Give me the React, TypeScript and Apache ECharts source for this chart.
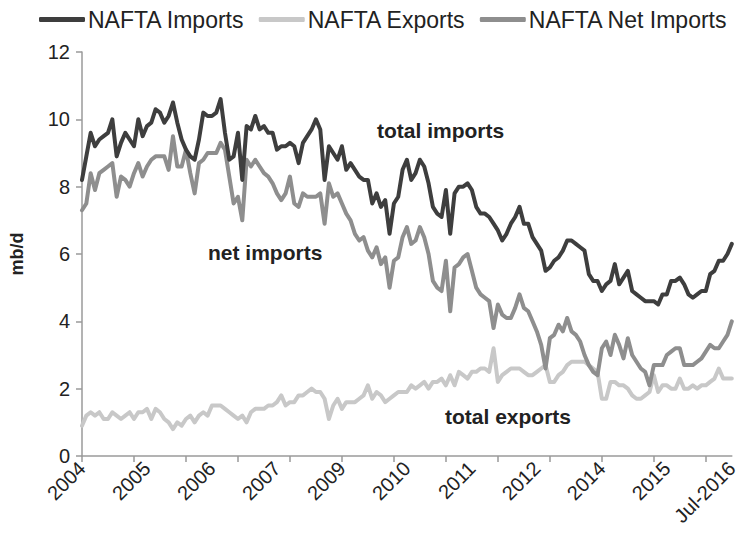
import React, { useEffect, useRef } from "react";
import * as echarts from "echarts";

// Monthly data, Jan-2004 .. Jul-2016 (151 months)
const startYear = 2004;
const monthCount = 151;
const monthNames = ["Jan", "Feb", "Mar", "Apr", "May", "Jun", "Jul", "Aug", "Sep", "Oct", "Nov", "Dec"];
const categories: string[] = [];
for (let i = 0; i < monthCount; i++) {
  categories.push(monthNames[i % 12] + "-" + (startYear + Math.floor(i / 12)));
}

const xTickLabels = ["2004", "2005", "2006", "2007", "2009", "2010", "2011", "2012", "2014", "2015", "Jul-2016"];

const importsData = [
  8.2, 8.9, 9.6, 9.2, 9.4, 9.5, 9.6, 10.0, 8.9, 9.3, 9.6, 9.4,
  9.2, 10.0, 9.5, 9.8, 9.9, 10.3, 10.2, 9.9, 10.1, 10.5, 9.9, 9.4,
  9.1, 8.9, 8.8, 9.4, 10.2, 10.1, 10.1, 10.2, 10.6, 9.6, 8.8, 8.9,
  9.6, 8.2, 9.8, 9.7, 10.1, 9.7, 9.8, 9.6, 9.6, 9.1, 9.2, 9.2,
  9.3, 9.2, 8.7, 9.3, 9.5, 9.7, 10.0, 9.7, 8.2, 9.2, 9.0, 8.8,
  9.2, 8.5, 8.7, 8.5, 8.3, 8.2, 8.2, 7.5, 7.8, 7.4, 7.6, 6.6,
  7.5, 7.7, 8.5, 8.8, 8.2, 8.4, 8.8, 8.6, 8.1, 7.4, 7.2, 7.1,
  7.9, 6.6, 7.8, 8.0, 8.0, 8.1, 7.9, 7.4, 7.2, 7.2, 7.1, 6.9,
  6.7, 6.4, 6.6, 6.9, 7.1, 7.4, 6.9, 6.9, 6.5, 6.3, 6.1, 5.5,
  5.6, 5.8, 5.9, 6.1, 6.4, 6.4, 6.3, 6.2, 6.1, 5.4, 5.2, 5.2,
  4.9, 5.1, 5.2, 5.7, 5.1, 5.3, 5.5, 4.9, 4.8, 4.7, 4.6, 4.6,
  4.6, 4.5, 4.8, 4.8, 5.2, 5.2, 5.3, 5.1, 4.8, 4.7, 4.8, 4.9,
  4.9, 5.4, 5.5, 5.8, 5.8, 6.0, 6.3,
];

const exportsData = [
  0.9, 1.2, 1.3, 1.2, 1.3, 1.1, 1.1, 1.3, 1.2, 1.1, 1.2, 1.3,
  1.1, 1.3, 1.3, 1.4, 1.1, 1.4, 1.3, 1.1, 1.0, 0.8, 1.0, 0.9,
  1.1, 1.2, 1.0, 1.2, 1.3, 1.2, 1.5, 1.5, 1.5, 1.4, 1.3, 1.2,
  1.1, 1.2, 1.0, 1.3, 1.4, 1.4, 1.4, 1.5, 1.5, 1.6, 1.8, 1.5,
  1.6, 1.6, 1.8, 1.8, 1.9, 2.0, 1.9, 1.9, 1.7, 1.1, 1.5, 1.7,
  1.4, 1.6, 1.6, 1.6, 1.7, 1.8, 2.1, 1.7, 1.9, 1.8, 1.6, 1.7,
  1.8, 1.9, 1.9, 1.9, 2.1, 2.0, 2.1, 2.2, 2.0, 2.2, 2.2, 2.3,
  2.1, 2.4, 2.1, 2.5, 2.4, 2.3, 2.5, 2.5, 2.6, 2.6, 2.5, 3.2,
  2.2, 2.4, 2.5, 2.6, 2.6, 2.6, 2.5, 2.4, 2.4, 2.5, 2.6, 2.7,
  2.2, 2.2, 2.4, 2.5, 2.7, 2.8, 2.8, 2.8, 2.8, 2.7, 2.6, 2.5,
  1.7, 1.7, 2.2, 2.2, 2.1, 2.1, 2.0, 1.8, 1.7, 1.7, 1.8, 1.9,
  2.4, 1.9, 2.1, 2.1, 2.0, 2.0, 2.3, 2.0, 2.0, 2.1, 2.0, 2.1,
  2.1, 2.2, 2.3, 2.6, 2.3, 2.3, 2.3,
];

const netImportsData = [
  7.3, 7.5, 8.4, 7.9, 8.4, 8.5, 8.6, 8.7, 7.7, 8.3, 8.2, 8.0,
  8.4, 8.7, 8.3, 8.6, 8.8, 8.9, 8.9, 8.9, 8.5, 9.5, 8.6, 8.6,
  9.1, 8.4, 7.8, 8.7, 8.8, 9.0, 9.0, 9.0, 9.3, 9.1, 8.3, 7.5,
  7.7, 7.0, 8.8, 8.6, 8.8, 8.6, 8.4, 8.3, 8.1, 7.8, 7.6, 7.8,
  8.3, 7.5, 7.4, 7.8, 7.7, 7.7, 7.7, 7.8, 6.9, 8.1, 7.7, 7.8,
  7.5, 7.2, 7.0, 6.6, 6.4, 6.5, 6.1, 5.9, 6.2, 5.7, 5.9, 5.0,
  5.8, 5.9, 6.5, 6.8, 6.3, 6.4, 6.8, 6.5, 6.0, 5.2, 5.0, 4.9,
  5.8, 4.3, 5.6, 5.7, 5.9, 6.0, 5.5, 5.0, 4.8, 4.7, 4.6, 3.8,
  4.5, 4.2, 4.1, 4.1, 4.4, 4.8, 4.4, 4.3, 4.0, 3.7, 3.3, 2.6,
  3.5, 3.6, 3.9, 3.7, 4.1, 3.7, 3.6, 3.4, 3.0, 2.7, 2.5, 2.4,
  3.2, 3.4, 3.0, 3.6, 3.3, 2.9, 3.5, 3.0, 2.8, 2.6, 2.5, 2.1,
  2.7, 2.7, 2.7, 3.0, 3.1, 3.2, 3.2, 2.7, 2.7, 2.7, 2.8, 2.9,
  3.1, 3.3, 3.2, 3.2, 3.4, 3.6, 4.0,
];

const FONT = "'Liberation Sans', Arial, sans-serif";

export default function App() {
  const ref = useRef<HTMLDivElement>(null);
  useEffect(() => {
    if (!ref.current) return;
    const chart = echarts.init(ref.current, undefined, { renderer: "svg" });
    const lineW = 4;
    chart.setOption({
      animation: false,
      backgroundColor: "#ffffff",
      textStyle: { fontFamily: FONT },
      legend: {
        top: 3,
        left: 34,
        icon: "roundRect",
        itemWidth: 46,
        itemHeight: 5,
        itemGap: 14,
        textStyle: { fontFamily: FONT, fontSize: 23, color: "#222222", padding: [0, 0, 0, -2] },
        data: ["NAFTA Imports", "NAFTA Exports", "NAFTA Net Imports"],
      },
      grid: { left: 78, right: 4, top: 52, bottom: 78, containLabel: false },
      xAxis: {
        type: "category",
        data: categories,
        boundaryGap: false,
        axisLine: { lineStyle: { color: "#9a9a9a", width: 1.5 } },
        axisTick: { show: true, interval: 11, length: 6, lineStyle: { color: "#9a9a9a", width: 1.5 } },
        axisLabel: {
          interval: 14,
          rotate: 45,
          fontSize: 20,
          color: "#222222",
          fontFamily: FONT,
          margin: 9,
          formatter: (_v: string, idx: number) => xTickLabels[Math.round(idx / 15)] ?? "",
        },
        splitLine: { show: false },
      },
      yAxis: {
        type: "value",
        min: 0,
        max: 12,
        interval: 2,
        name: "mb/d",
        nameLocation: "middle",
        nameRotate: 90,
        nameGap: 56,
        nameTextStyle: { fontFamily: FONT, fontSize: 18, fontWeight: "bold", color: "#222222" },
        axisLine: { show: true, lineStyle: { color: "#9a9a9a", width: 1.5 } },
        axisTick: { show: true, length: 6, lineStyle: { color: "#9a9a9a", width: 1.5 } },
        axisLabel: { fontSize: 20, color: "#222222", fontFamily: FONT, margin: 12 },
        splitLine: { show: false },
      },
      series: [
        {
          name: "NAFTA Imports",
          type: "line",
          data: importsData,
          symbol: "none",
          color: "#3e3e3e",
          lineStyle: { width: lineW, color: "#3e3e3e", cap: "round", join: "round" },
          z: 3,
        },
        {
          name: "NAFTA Exports",
          type: "line",
          data: exportsData,
          symbol: "none",
          color: "#c8c8c8",
          lineStyle: { width: lineW, color: "#c8c8c8", cap: "round", join: "round" },
          z: 1,
        },
        {
          name: "NAFTA Net Imports",
          type: "line",
          data: netImportsData,
          symbol: "none",
          color: "#8e8e8e",
          lineStyle: { width: lineW, color: "#8e8e8e", cap: "round", join: "round" },
          z: 2,
        },
      ],
      graphic: [
        {
          type: "text",
          left: 377,
          top: 120,
          style: { text: "total imports", fontFamily: FONT, fontSize: 21, fontWeight: "bold", fill: "#222222" },
        },
        {
          type: "text",
          left: 208,
          top: 242,
          style: { text: "net imports", fontFamily: FONT, fontSize: 21, fontWeight: "bold", fill: "#222222" },
        },
        {
          type: "text",
          left: 445,
          top: 406,
          style: { text: "total exports", fontFamily: FONT, fontSize: 21, fontWeight: "bold", fill: "#222222" },
        },
      ],
    });
    return () => chart.dispose();
  }, []);
  return <div ref={ref} style={{ position: "fixed", left: 0, top: 0, width: 741, height: 534 }} />;
}
